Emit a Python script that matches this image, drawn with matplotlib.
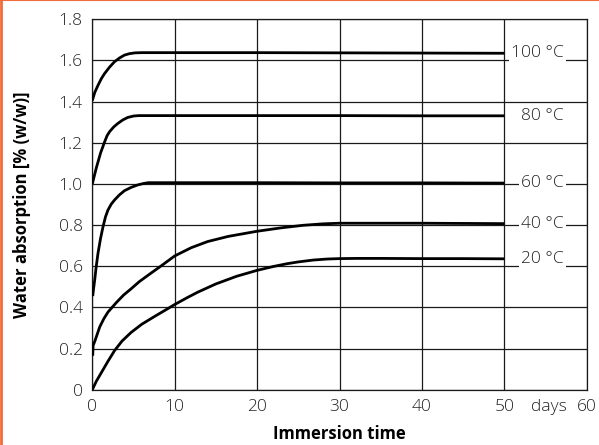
import matplotlib
matplotlib.use('Agg')
import matplotlib.pyplot as plt
from matplotlib.lines import Line2D

plt.rcParams['font.family'] = ['Open Sans', 'DejaVu Sans']
plt.rcParams['font.weight'] = 'light'

# immersion time (days) / water absorption (% w/w)
t100 = [0, 0.3, 0.7, 1.1, 1.5, 2.1, 2.7, 3.3, 3.9, 4.5, 5.2, 6, 10, 20, 30, 40, 50]
v100 = [1.405, 1.445, 1.48, 1.512, 1.537, 1.568, 1.594, 1.612, 1.626, 1.633, 1.637,
        1.638, 1.638, 1.638, 1.637, 1.636, 1.635]

t80 = [0, 0.5, 1.0, 1.5, 1.8, 2.1, 2.6, 3.1, 3.7, 4.3, 5.0, 5.6, 10, 20, 30, 40, 50]
v80 = [1.0, 1.08, 1.15, 1.205, 1.235, 1.254, 1.277, 1.294, 1.311, 1.323, 1.33,
       1.332, 1.332, 1.332, 1.332, 1.331, 1.331]

t60 = [0.05, 0.15, 0.29, 0.45, 0.69, 1.0, 1.3, 1.6, 1.9, 2.3, 2.7, 3.3, 3.9, 4.7,
       5.5, 6.2, 6.8, 10, 20, 30, 40, 50]
v60 = [0.455, 0.49, 0.533, 0.59, 0.663, 0.735, 0.792, 0.84, 0.873, 0.902, 0.922,
       0.947, 0.967, 0.983, 0.995, 1.002, 1.006, 1.006, 1.006, 1.005, 1.005, 1.004]

t40 = [0.05, 0.1, 0.3, 0.6, 0.9, 1.4, 1.9, 2.4, 3.0, 3.8, 4.7, 5.7, 7.0, 8.3, 10,
       12, 14, 16.5, 20, 23, 25.6, 28, 30, 35, 40, 45, 50]
v40 = [0.165, 0.215, 0.235, 0.27, 0.305, 0.345, 0.377, 0.40, 0.427, 0.46, 0.49,
       0.525, 0.563, 0.6, 0.65, 0.69, 0.72, 0.745, 0.77, 0.787, 0.799, 0.806,
       0.809, 0.809, 0.809, 0.808, 0.807]

t20 = [0, 0.5, 1.1, 1.9, 2.7, 3.6, 4.7, 6, 7.6, 9, 10, 11.5, 12.8, 15, 17.5, 20,
       22, 23.6, 25, 26.8, 28.5, 30, 32, 35, 40, 45, 50]
v20 = [0, 0.042, 0.083, 0.138, 0.19, 0.236, 0.278, 0.318, 0.357, 0.39, 0.414, 0.447,
       0.474, 0.514, 0.551, 0.58, 0.599, 0.612, 0.621, 0.63, 0.635, 0.637, 0.638,
       0.638, 0.637, 0.637, 0.636]

curves = [(t100, v100, '100 °C'), (t80, v80, '80 °C'), (t60, v60, '60 °C'),
          (t40, v40, '40 °C'), (t20, v20, '20 °C')]

x_ticks = [0, 10, 20, 30, 40, 50, 60]
y_ticks = [0, 0.2, 0.4, 0.6, 0.8, 1.0, 1.2, 1.4, 1.6, 1.8]
y_labels = ['0', '0.2', '0.4', '0.6', '0.8', '1.0', '1.2', '1.4', '1.6', '1.8']

fig = plt.figure(figsize=(5.99, 4.45), dpi=100)
ax = fig.add_axes([0.1541, 0.1243, 0.8254, 0.8323])

for t, v, name in curves:
    ax.plot(t, v, color='black', lw=2.0, zorder=3, solid_capstyle='butt')
    ax.text(57.2, v[-1], name, ha='right', va='center', fontsize=12.5, color='#222222',
            zorder=4, bbox=dict(facecolor='white', edgecolor='none', pad=1.5))

ax.set_xlim(0, 60)
ax.set_ylim(0, 1.8)
ax.set_xticks(x_ticks, [str(x) for x in x_ticks])
ax.set_xticks([55.4], ['days'], minor=True)
ax.set_yticks(y_ticks, y_labels)
ax.tick_params(which='both', length=0, labelsize=12.5, colors='#222222', pad=7)
ax.grid(True, which='major', color='#1a1a1a', lw=0.9, zorder=1)
for s in ax.spines.values():
    s.set_color('#1a1a1a')
    s.set_linewidth(0.9)

ax.set_xlabel('Immersion time', fontsize=12, fontweight='bold', labelpad=7)
ax.set_ylabel('Water absorption [% (w/w)]', fontsize=12, fontweight='bold', labelpad=20)

# orange frame pieces at the top and left edge
fig.add_artist(Line2D([0, 1], [0.999, 0.999], color='#f26b3a', lw=1.5))
fig.add_artist(Line2D([0.002, 0.002], [0, 1], color='#f26b3a', lw=2))

fig.savefig('out.png', dpi=100)
